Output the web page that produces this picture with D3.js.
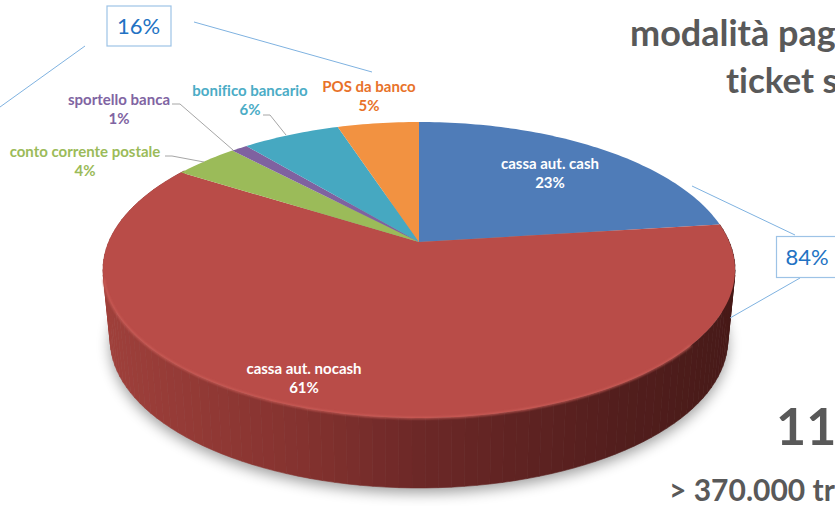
<!DOCTYPE html>
<html>
<head>
<meta charset="utf-8">
<style>
    html, body { margin: 0; padding: 0; background: #fff; overflow: hidden; }
    text { font-family: Lato, "Open Sans", sans-serif; font-variant-ligatures: none; }
</style>
<script src="https://cdnjs.cloudflare.com/ajax/libs/d3/7.8.5/d3.min.js"></script>
</head>
<body>
<svg class="chart"></svg>
<script>
var categories = ['cassa aut. cash', 'cassa aut. nocash', 'conto corrente postale', 'sportello banca', 'bonifico bancario', 'POS da banco'];
var shares = [23, 61, 4, 1, 6, 5];
var sliceColors = ['#4f7cb8', '#b94c48', '#9bbb59', '#7f62a0', '#46a8c1', '#f29241'];
var labelColors = ['#ffffff', '#ffffff', '#9bbb59', '#8064a2', '#4bacc6', '#e8722a'];

// label anchor (centre x, first baseline) and leader polyline for each slice
var labelPos = [[550, 169], [304, 374], [85, 157], [119, 105], [250, 96], [369, 92]];
var leaders = [
    null,
    null,
    [[165, 156], [172, 156], [204, 162]],
    [[172, 104], [180, 104], [233, 150]],
    [[263, 115], [270, 115], [286, 135]],
    null
];

var width = 835, height = 506;

var svg = d3.select('.chart')
    .attr('width', width)
    .attr('height', height)
    .style('display', 'block');

var defs = svg.append('defs');

defs.append('filter').attr('id', 'soft')
    .attr('x', '-10%').attr('y', '-10%').attr('width', '120%').attr('height', '120%')
    .append('feGaussianBlur').attr('stdDeviation', 7);

defs.append('filter').attr('id', 'rim')
    .append('feGaussianBlur').attr('stdDeviation', 0.8);

// tilted disc: a projective map so the apex sits above the ellipse centre
var apexX = 419, apexY = 242;
var spreadX = 310.3, spreadY = 142.7, tilt = -0.189;

function topPoint(a) {
    var u = Math.sin(a), v = -Math.cos(a), w = 1 + tilt * v;
    return [apexX + spreadX * u / w, apexY + spreadY * v / w];
}

// underside of the disc, slightly narrower and pushed down
function bottomPoint(a) {
    var p = topPoint(a);
    return [apexX + (p[0] - apexX) * 0.977, p[1] + 70];
}

function arcPoints(fn, a0, a1) {
    var n = Math.max(2, Math.ceil((a1 - a0) / 0.02));
    return d3.range(n + 1).map(function (i) { return fn(a0 + (a1 - a0) * i / n); });
}

var line = d3.line();

var pie = d3.pie().sort(null);
var slices = pie(shares);
var red = slices[1];

// ground shadow
svg.append('path')
    .attr('d', line(arcPoints(function (a) {
        var p = bottomPoint(a);
        return [p[0], p[1] + 5];
    }, 0, 2 * Math.PI)) + 'Z')
    .attr('fill', '#000')
    .attr('opacity', 0.38)
    .attr('filter', 'url(#soft)');

// wall, only the red slice faces the viewer; drawn as narrow strips
var sideColor = d3.scaleLinear()
    .domain([103, 300, 420, 600, 735])
    .range(['#9f403b', '#84322f', '#6c2827', '#551f1e', '#471a18']);

var wallStep = 0.035;
var wallAngles = d3.range(red.startAngle, red.endAngle, wallStep);

svg.append('g').selectAll('path').data(wallAngles).enter().append('path')
    .attr('d', function (a) {
        var b = a + wallStep;
        return line([topPoint(a), topPoint(b), bottomPoint(b), bottomPoint(a)]) + 'Z';
    })
    .attr('fill', function (a) { return sideColor(topPoint(a + wallStep / 2)[0]); })
    .attr('stroke', function (a) { return sideColor(topPoint(a + wallStep / 2)[0]); })
    .attr('stroke-width', 0.6);

// top face
svg.append('g').selectAll('path').data(slices).enter().append('path')
    .attr('d', function (d) {
        return line([[apexX, apexY]].concat(arcPoints(topPoint, d.startAngle, d.endAngle))) + 'Z';
    })
    .attr('fill', function (d, i) { return sliceColors[i]; });

// bevel highlight along the front edge
svg.append('path')
    .attr('d', line(arcPoints(topPoint, Math.PI * 0.72, Math.PI * 1.42)))
    .attr('fill', 'none')
    .attr('stroke', '#d0615b')
    .attr('stroke-width', 1.6)
    .attr('filter', 'url(#rim)');

// leader lines
svg.append('g').selectAll('path').data(leaders.filter(Boolean)).enter().append('path')
    .attr('d', line)
    .attr('fill', 'none')
    .attr('stroke', '#a6a6a6')
    .attr('stroke-width', 1);

// slice labels
var labels = svg.append('g').selectAll('text').data(slices).enter().append('text')
    .attr('text-anchor', 'middle')
    .attr('font-size', 15)
    .attr('font-weight', 700)
    .attr('fill', function (d, i) { return labelColors[i]; });

labels.append('tspan')
    .attr('x', function (d, i) { return labelPos[i][0]; })
    .attr('y', function (d, i) { return labelPos[i][1]; })
    .text(function (d, i) { return categories[i]; });

labels.append('tspan')
    .attr('x', function (d, i) { return labelPos[i][0]; })
    .attr('y', function (d, i) { return labelPos[i][1] + 19; })
    .text(function (d) { return d.value + '%'; });

// callouts around the top face
var calloutLines = [
    [[85, 46], [0, 107]],
    [[194, 22], [372, 72]],
    [[692, 186], [795, 235]],
    [[800, 278], [730, 318]]
];
svg.append('g').selectAll('path').data(calloutLines).enter().append('path')
    .attr('d', line)
    .attr('fill', 'none')
    .attr('stroke', '#7fb2e0')
    .attr('stroke-width', 1);

var boxes = [
    { x: 107, y: 6, w: 64, h: 40, text: '16%' },
    { x: 776.5, y: 236.5, w: 70, h: 41, text: '84%' }
];
svg.append('g').selectAll('rect').data(boxes).enter().append('rect')
    .attr('x', function (d) { return d.x; })
    .attr('y', function (d) { return d.y; })
    .attr('width', function (d) { return d.w; })
    .attr('height', function (d) { return d.h; })
    .attr('fill', '#fff')
    .attr('stroke', '#9dc3e6')
    .attr('stroke-width', 1.2);

svg.append('g').selectAll('text').data(boxes).enter().append('text')
    .attr('x', function (d, i) { return i === 0 ? 138.5 : 807; })
    .attr('y', function (d) { return d.y + 28; })
    .attr('text-anchor', 'middle')
    .attr('font-size', 22)
    .attr('fill', '#2272c3')
    .text(function (d) { return d.text; });

// texts cut off by the right edge of the picture
var sideTexts = [
    { x: 630, y: 46, size: 36, text: 'modalità pag' },
    { x: 726, y: 93, size: 35, text: 'ticket s' },
    { x: 776, y: 445, size: 52, text: '11,' },
    { x: 669, y: 501, size: 30, text: '> 370.000 tr' }
];
svg.append('g').selectAll('text').data(sideTexts).enter().append('text')
    .attr('x', function (d) { return d.x; })
    .attr('y', function (d) { return d.y; })
    .attr('font-size', function (d) { return d.size; })
    .attr('font-weight', 700)
    .attr('fill', '#595959')
    .text(function (d) { return d.text; });
</script>
</body>
</html>
